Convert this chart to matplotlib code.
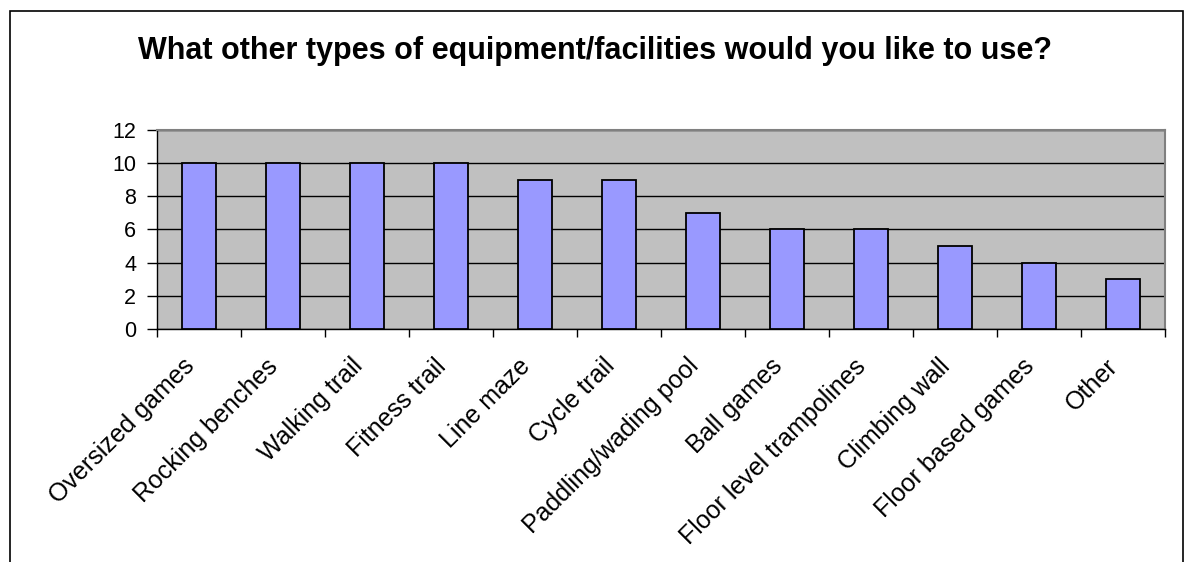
import matplotlib
matplotlib.use('Agg')
import matplotlib.pyplot as plt
from matplotlib.patches import Rectangle
import numpy as np

plt.rcParams['font.family'] = ['Liberation Sans', 'DejaVu Sans']

categories = ['Oversized games', 'Rocking benches', 'Walking trail', 'Fitness trail',
              'Line maze', 'Cycle trail', 'Paddling/wading pool', 'Ball games',
              'Floor level trampolines', 'Climbing wall', 'Floor based games', 'Other']
counts = [10, 10, 10, 10, 9, 9, 7, 6, 6, 5, 4, 3]
yticks = [0, 2, 4, 6, 8, 10, 12]

fig = plt.figure(figsize=(11.86, 5.62), dpi=100)
ax = fig.add_axes([0.1324, 0.4146, 0.8499, 0.3541])

x = np.arange(len(categories))
ax.set_facecolor('#c0c0c0')
ax.bar(x, counts, width=0.4, color='#9999ff', edgecolor='black', linewidth=1.3, zorder=3)

ax.set_xlim(-0.5, len(categories) - 0.5)
ax.set_ylim(0, 12)
ax.set_yticks(yticks)
ax.yaxis.grid(True, color='black', linewidth=1, zorder=1)
ax.set_axisbelow(True)

# ticks on the category boundaries, labels at the centres
ax.set_xticks(np.arange(len(categories) + 1) - 0.5)
ax.set_xticklabels([])
ax.set_xticks(x, minor=True)
ax.set_xticklabels(categories, minor=True, rotation=45, ha='right', fontsize=18)
ax.tick_params(axis='x', which='minor', length=0, pad=18)
ax.tick_params(axis='x', which='major', length=6, width=1, direction='out')
ax.tick_params(axis='y', length=7, width=1, labelsize=15.5, pad=8)

for side in ['top', 'right']:
    ax.spines[side].set_color('#808080')
    ax.spines[side].set_linewidth(1.5)
for side in ['left', 'bottom']:
    ax.spines[side].set_color('black')
    ax.spines[side].set_linewidth(1)

fig.text(0.502, 0.91, 'What other types of equipment/facilities would you like to use?',
         ha='center', va='center', fontsize=22, fontweight='bold')

# outer chart frame
fig.patches.append(Rectangle((10 / 1186, -0.05), 1173 / 1186, 1.05 - 11 / 562,
                             transform=fig.transFigure, fill=False,
                             edgecolor='black', linewidth=1.2))

fig.savefig('out.png', dpi=100)
